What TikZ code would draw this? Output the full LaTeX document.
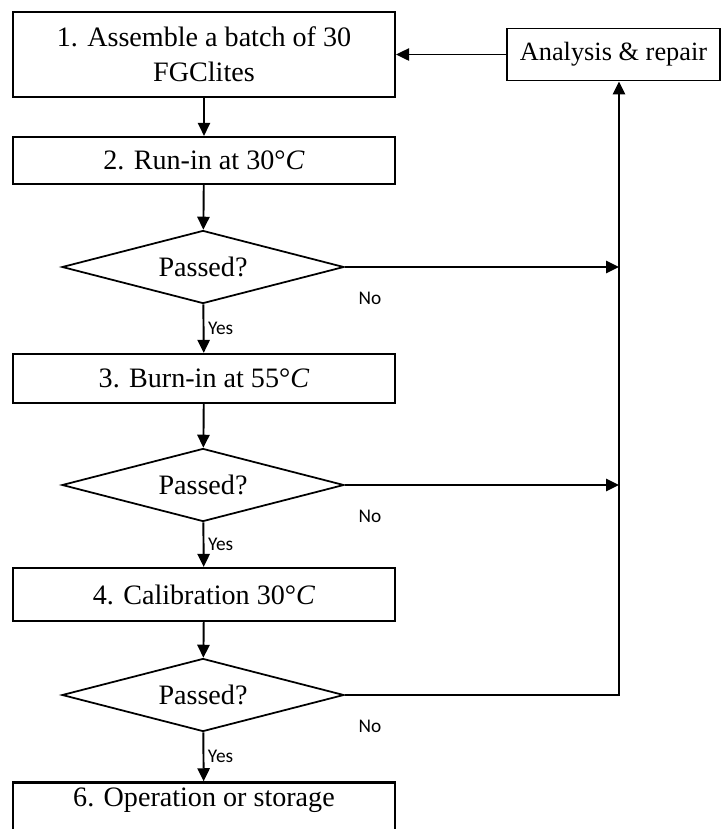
\documentclass[tikz,border=0pt]{standalone}
\usepackage{fontspec}
\setmainfont{Liberation Serif}
\newfontfamily\labelfont{Carlito}
\usetikzlibrary{positioning,arrows.meta,shapes.geometric}

\tikzset{
  stepbox/.style={rectangle,draw,line width=1.3pt,minimum width=7.64cm,inner sep=0pt,align=center,font=\fontsize{16}{20}\selectfont},
  check/.style={diamond,draw,line width=1pt,aspect=4,minimum width=5.64cm,minimum height=1.46cm,inner sep=0pt,font=\fontsize{16}{20}\selectfont},
  flow/.style={line width=1.1pt,-{Triangle[length=7.4pt,width=7pt]}},
  lbl/.style={font=\labelfont\fontsize{11}{13}\selectfont,inner sep=0pt},
}

\begin{document}
\begin{tikzpicture}[x=0.02cm,y=-0.02cm]
\useasboundingbox (0,0) rectangle (726,829);
\clip (0,0) rectangle (726,829);

% main column
\node (s1) at (204,54.5) [stepbox,minimum height=1.7cm] {1. Assemble a batch of 30\\FGClites};
\node (s2) at (204,160.5) [stepbox,minimum height=0.94cm] {2. Run-in at 30°\textit{C}};
\node (d1) at (203,267) [check] {Passed?};
\node (s3) at (204,378.5) [stepbox,minimum height=0.98cm] {3. Burn-in at 55°\textit{C}};
\node (d2) at (203,485) [check] {Passed?};
\node (s4) at (204,594.5) [stepbox,minimum height=1.06cm] {4. Calibration 30°\textit{C}};
\node (d3) at (203,695) [check] {Passed?};
% last box runs past the lower edge
\node (s6) at (204,806) [stepbox,anchor=base,inner ysep=0.1cm,text depth=1cm] {6. Operation or storage};

% repair loop
\node (ana) at (613.5,54.5) [rectangle,draw,line width=1.1pt,minimum width=4.26cm,minimum height=1.04cm,inner sep=0pt,font=\fontsize{15}{19}\selectfont] {Analysis \& repair};
\coordinate (ret) at (619,0);

\draw[flow] (s1) -- (s2);
\draw[flow] (s2) -- (d1);
\draw[flow] (d1) -- node[lbl,right=2pt] {Yes} (s3);
\draw[flow] (s3) -- (d2);
\draw[flow] (d2) -- node[lbl,right=2pt] {Yes} (s4);
\draw[flow] (s4) -- (d3);
\draw[flow] (d3) -- node[lbl,right=2pt] {Yes} (s6);

\draw[flow] (d1.east) -- node[lbl,pos=0,shift={(25,31)}] {No} (d1.east -| ret);
\draw[flow] (d2.east) -- node[lbl,pos=0,shift={(25,31)}] {No} (d2.east -| ret);
\draw[flow] (d3.east) -- node[lbl,pos=0,shift={(25,31)}] {No} (d3.east -| ret) -- (ret |- ana.south);
\draw[flow] (ana) -- (s1);
\end{tikzpicture}
\end{document}
